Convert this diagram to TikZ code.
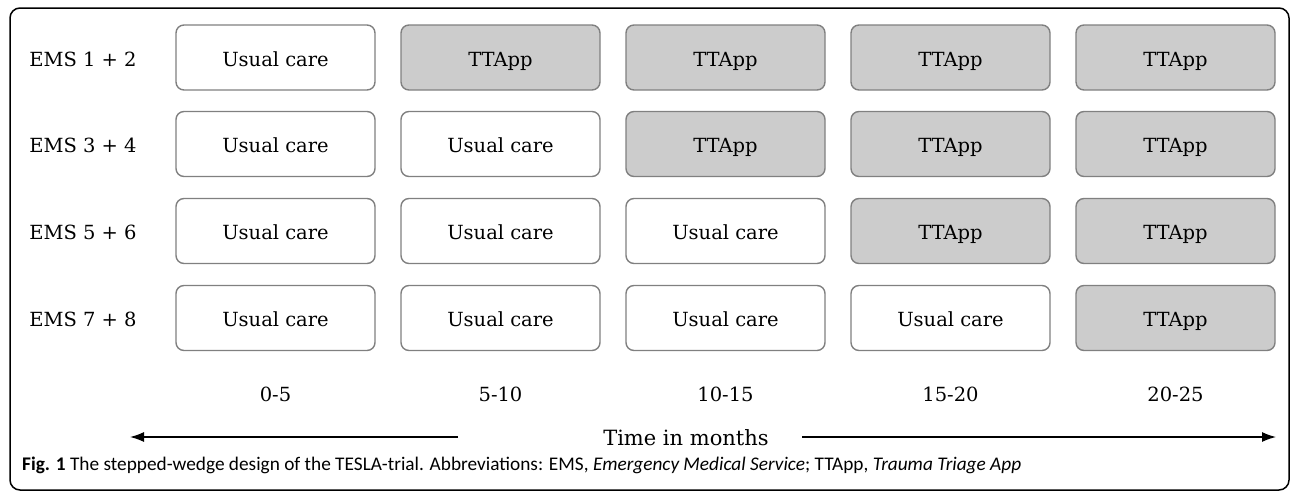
\documentclass[tikz,border=0pt]{standalone}
\usepackage{fontspec}
\setmainfont{DejaVu Serif}
\newfontfamily\capfont{Carlito}
\usetikzlibrary{arrows.meta}
\begin{document}
\begin{tikzpicture}[x=1pt,y=-1pt,
  txt/.style={font=\fontsize{19.5}{23}\selectfont, text height=17pt, text depth=0pt},
  cell/.style={txt, draw=black!50, line width=1.4pt, rounded corners=8pt,
    minimum width=199pt, minimum height=65pt, inner sep=0pt},
  usual/.style={cell, fill=white},
  app/.style={cell, fill=black!20},
  rowlab/.style={txt, anchor=center},
  timelab/.style={txt},
  axis/.style={line width=1.3pt, -{Latex[length=14pt,width=10pt]}}]
\useasboundingbox (0,0) rectangle (1295,490);
\draw[line width=1.5pt, rounded corners=10pt] (10,8) rectangle (1289,490);
% rows of the stepped wedge
\foreach \r/\lab/\cy in {1/{EMS 1 + 2}/57.5, 2/{EMS 3 + 4}/144, 3/{EMS 5 + 6}/231, 4/{EMS 7 + 8}/318}{
  \node[rowlab] (lab\r) at (83,\cy) {\lab};
  \foreach \c in {1,...,5}{
    \pgfmathsetmacro{\cx}{275.5+225*(\c-1)}
    \ifnum\c>\r
      \node[app] (c\r\c) at (\cx,\cy) {TTApp};
    \else
      \node[usual] (c\r\c) at (\cx,\cy) {Usual care};
    \fi
  }
}
% time periods
\foreach \c/\t in {1/0-5,2/5-10,3/10-15,4/15-20,5/20-25}{
  \pgfmathsetmacro{\cx}{275.5+225*(\c-1)}
  \node[timelab] (t\c) at (\cx,393) {\t};
}
\node[timelab, font=\fontsize{21}{24}\selectfont] (time) at (686,437) {Time in months};
\coordinate (aLs) at (458,437);
\coordinate (aL) at (130,437);
\coordinate (aRs) at (802,437);
\coordinate (aR) at (1276,437);
\draw[axis] (aLs) -- (aL);
\draw[axis] (aRs) -- (aR);
% caption
\node[anchor=base west, font=\capfont\fontsize{19.3}{22}\selectfont, inner sep=0pt] (cap) at (22,470)
  {\textbf{Fig. 1} The stepped-wedge design of the TESLA-trial. Abbreviations: EMS, \textit{Emergency Medical Service}; TTApp, \textit{Trauma Triage App}};
\end{tikzpicture}
\end{document}
